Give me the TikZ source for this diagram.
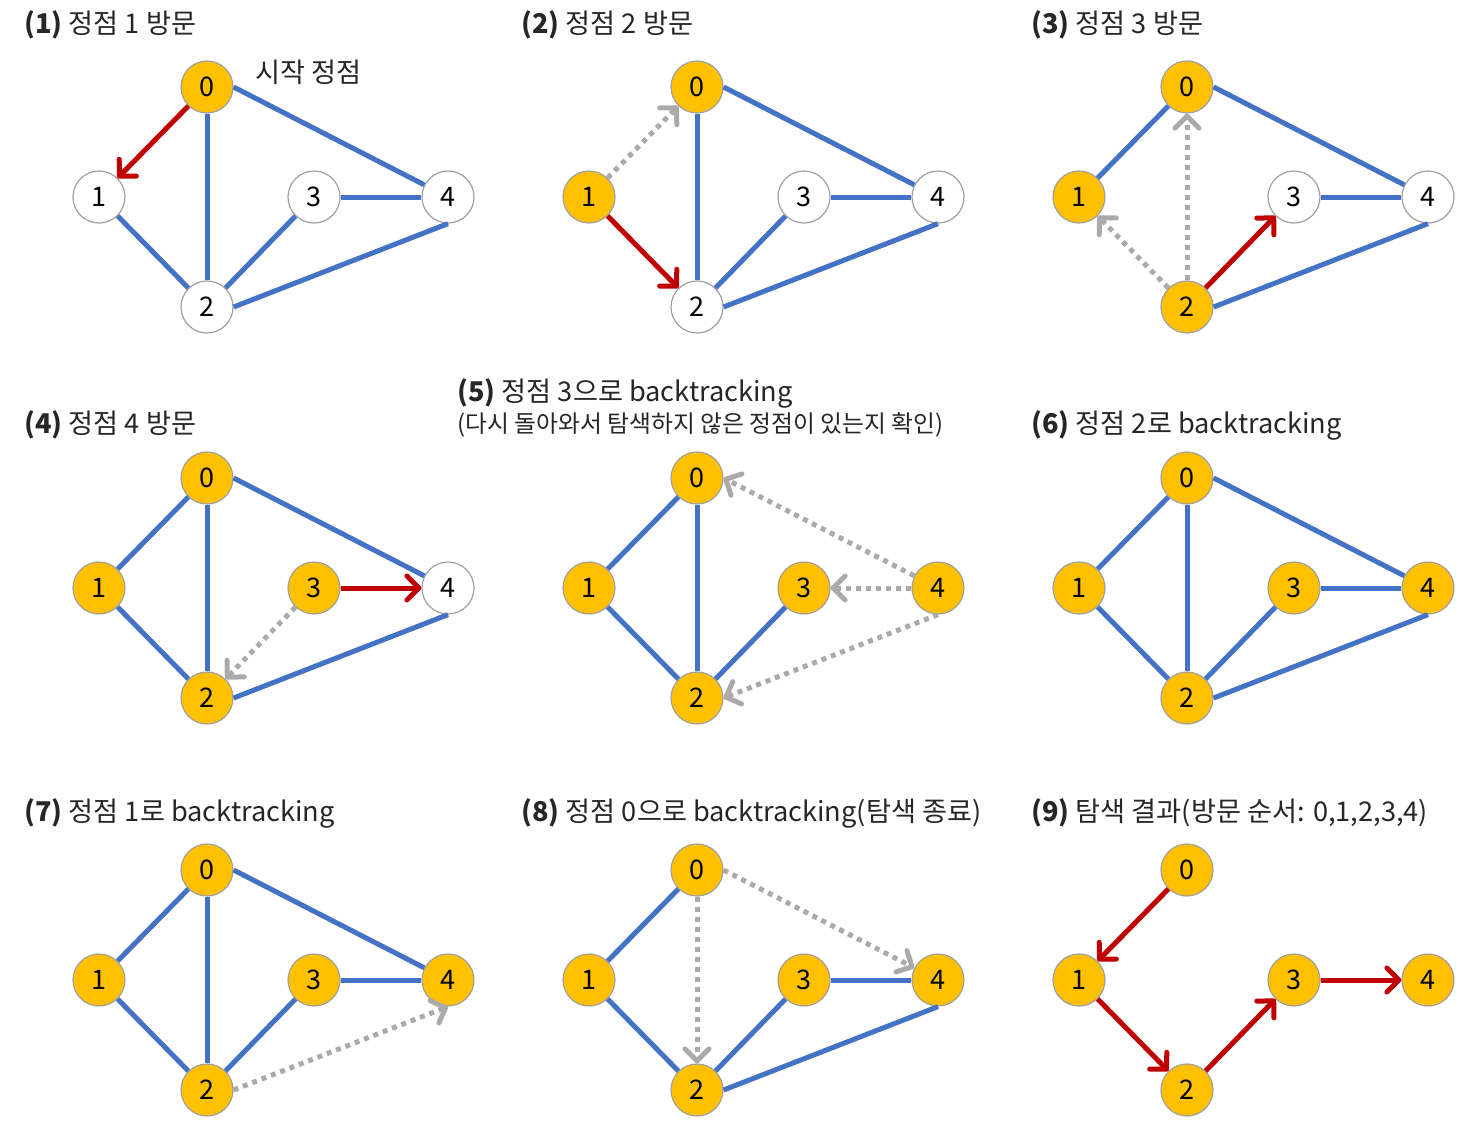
\documentclass[tikz,border=0pt]{standalone}
\usepackage{fontspec}
\setmainfont{Noto Sans CJK KR}
\usepackage{tikz}
\usetikzlibrary{arrows.meta}

\definecolor{linkblue}{HTML}{4472C4}
\definecolor{treered}{HTML}{C00000}
\definecolor{visitgold}{HTML}{FFC000}
\definecolor{rimgray}{HTML}{A0A0A0}
\definecolor{dotgray}{HTML}{AAAAAA}
\definecolor{inkgray}{HTML}{262626}

\tikzset{
	vtx/.style={circle, draw=rimgray, line width=0.6pt, minimum size=26pt, inner sep=0pt, text=black, font=\fontsize{13.5}{15}\selectfont},
	visit/.style={vtx, fill=visitgold},
	blank/.style={vtx, fill=white},
	link/.style={draw=linkblue, line width=2.5pt},
	walk/.style={draw=treered, line width=2.5pt, -{Straight Barb[length=6pt, width=12pt, line cap=round, line join=round]}},
	retreat/.style={draw=dotgray, line width=2.5pt, dash pattern=on 2.5pt off 2.5pt, -{Straight Barb[length=6pt, width=12pt, line cap=round, line join=round]}},
	title/.style={anchor=west, inner sep=0pt, text=inkgray, font=\fontsize{13.6}{15}\selectfont},
	subtitle/.style={anchor=west, inner sep=0pt, text=inkgray, font=\fontsize{11.9}{13}\selectfont}
}

\begin{document}
\begin{tikzpicture}[x=0.5pt, y=-0.5pt]

		% Node positions inside one panel (pixels)
		\def\xL{99}
		\def\xM{207}
		\def\xR{314}
		\def\xE{448}

		\def\yT{87}
		\def\yC{197}
		\def\yB{307}

		\useasboundingbox (0,0) rectangle (1462,1125);

		% --- Titles ---
		\node[title] (t1) at (24,25) {\textbf{(1)} 정점 1 방문};
		\node[title] (t2) at (521,25) {\textbf{(2)} 정점 2 방문};
		\node[title] (t3) at (1031,25) {\textbf{(3)} 정점 3 방문};
		\node[title] (t4) at (24,425) {\textbf{(4)} 정점 4 방문};
		\node[title] (t5) at (457,393) {\textbf{(5)} 정점 3으로 backtracking};
		\node[subtitle] (t5b) at (457,425) {(다시 돌아와서 탐색하지 않은 정점이 있는지 확인)};
		\node[title] (t6) at (1031,425) {\textbf{(6)} 정점 2로 backtracking};
		\node[title] (t7) at (24,813) {\textbf{(7)} 정점 1로 backtracking};
		\node[title] (t8) at (521,813) {\textbf{(8)} 정점 0으로 backtracking(탐색 종료)};
		\node[title] (t9) at (1031,813) {\textbf{(9)} 탐색 결과(방문 순서: 0,1,2,3,4)};

		% --- Panel 1 ---
		\begin{scope}[shift={(0,0)}]
		\node[visit] (a0) at (\xM,\yT) {0}; \node[blank] (a1) at (\xL,\yC) {1};
		\node[blank] (a2) at (\xM,\yB) {2}; \node[blank] (a3) at (\xR,\yC) {3};
		\node[blank] (a4) at (\xE,\yC) {4};
		\node[title] (start) at (255,72) {시작 정점};
		\draw[link] (a0) -- (a2);  \draw[link] (a0.east) -- (a4);
		\draw[link] (a1) -- (a2);  \draw[link] (a2) -- (a3);
		\draw[link] (a3) -- (a4);  \draw[link] (a2.east) -- (a4.south);
		\draw[walk] (a0) -- (a1);
		\end{scope}

		% --- Panel 2 ---
		\begin{scope}[shift={(490,0)}]
		\node[visit] (b0) at (\xM,\yT) {0}; \node[visit] (b1) at (\xL,\yC) {1};
		\node[blank] (b2) at (\xM,\yB) {2}; \node[blank] (b3) at (\xR,\yC) {3};
		\node[blank] (b4) at (\xE,\yC) {4};
		\draw[link] (b0) -- (b2);  \draw[link] (b0.east) -- (b4);
		\draw[link] (b2) -- (b3);  \draw[link] (b3) -- (b4);
		\draw[link] (b2.east) -- (b4.south);
		\draw[retreat] (b1) -- (b0);
		\draw[walk] (b1) -- (b2);
		\end{scope}

		% --- Panel 3 ---
		\begin{scope}[shift={(980,0)}]
		\node[visit] (c0) at (\xM,\yT) {0}; \node[visit] (c1) at (\xL,\yC) {1};
		\node[visit] (c2) at (\xM,\yB) {2}; \node[blank] (c3) at (\xR,\yC) {3};
		\node[blank] (c4) at (\xE,\yC) {4};
		\draw[link] (c0) -- (c1);  \draw[link] (c0.east) -- (c4);
		\draw[link] (c3) -- (c4);  \draw[link] (c2.east) -- (c4.south);
		\draw[retreat] (c2) -- (c0);  \draw[retreat] (c2) -- (c1);
		\draw[walk] (c2) -- (c3);
		\end{scope}

		% --- Panel 4 ---
		\begin{scope}[shift={(0,391)}]
		\node[visit] (d0) at (\xM,\yT) {0}; \node[visit] (d1) at (\xL,\yC) {1};
		\node[visit] (d2) at (\xM,\yB) {2}; \node[visit] (d3) at (\xR,\yC) {3};
		\node[blank] (d4) at (\xE,\yC) {4};
		\draw[link] (d0) -- (d1);  \draw[link] (d0) -- (d2);
		\draw[link] (d0.east) -- (d4);  \draw[link] (d1) -- (d2);
		\draw[link] (d2.east) -- (d4.south);
		\draw[retreat] (d3) -- (d2);
		\draw[walk] (d3) -- (d4);
		\end{scope}

		% --- Panel 5 ---
		\begin{scope}[shift={(490,391)}]
		\node[visit] (e0) at (\xM,\yT) {0}; \node[visit] (e1) at (\xL,\yC) {1};
		\node[visit] (e2) at (\xM,\yB) {2}; \node[visit] (e3) at (\xR,\yC) {3};
		\node[visit] (e4) at (\xE,\yC) {4};
		\draw[link] (e0) -- (e1);  \draw[link] (e0) -- (e2);
		\draw[link] (e1) -- (e2);  \draw[link] (e2) -- (e3);
		\draw[retreat] (e4) -- (e0.east);  \draw[retreat] (e4) -- (e3);
		\draw[retreat] (e4.south) -- (e2.east);
		\end{scope}

		% --- Panel 6 ---
		\begin{scope}[shift={(980,391)}]
		\node[visit] (f0) at (\xM,\yT) {0}; \node[visit] (f1) at (\xL,\yC) {1};
		\node[visit] (f2) at (\xM,\yB) {2}; \node[visit] (f3) at (\xR,\yC) {3};
		\node[visit] (f4) at (\xE,\yC) {4};
		\draw[link] (f0) -- (f1);  \draw[link] (f0) -- (f2);
		\draw[link] (f0.east) -- (f4);  \draw[link] (f1) -- (f2);
		\draw[link] (f2) -- (f3);  \draw[link] (f3) -- (f4);
		\draw[link] (f2.east) -- (f4.south);
		\end{scope}

		% --- Panel 7 ---
		\begin{scope}[shift={(0,783)}]
		\node[visit] (g0) at (\xM,\yT) {0}; \node[visit] (g1) at (\xL,\yC) {1};
		\node[visit] (g2) at (\xM,\yB) {2}; \node[visit] (g3) at (\xR,\yC) {3};
		\node[visit] (g4) at (\xE,\yC) {4};
		\draw[link] (g0) -- (g1);  \draw[link] (g0) -- (g2);
		\draw[link] (g0.east) -- (g4);  \draw[link] (g1) -- (g2);
		\draw[link] (g2) -- (g3);  \draw[link] (g3) -- (g4);
		\draw[retreat] (g2.east) -- (g4.south);
		\end{scope}

		% --- Panel 8 ---
		\begin{scope}[shift={(490,783)}]
		\node[visit] (h0) at (\xM,\yT) {0}; \node[visit] (h1) at (\xL,\yC) {1};
		\node[visit] (h2) at (\xM,\yB) {2}; \node[visit] (h3) at (\xR,\yC) {3};
		\node[visit] (h4) at (\xE,\yC) {4};
		\draw[link] (h0) -- (h1);  \draw[link] (h1) -- (h2);
		\draw[link] (h2) -- (h3);  \draw[link] (h3) -- (h4);
		\draw[link] (h2.east) -- (h4.south);
		\draw[retreat] (h0) -- (h2);  \draw[retreat] (h0.east) -- (h4);
		\end{scope}

		% --- Panel 9 ---
		\begin{scope}[shift={(980,783)}]
		\node[visit] (i0) at (\xM,\yT) {0}; \node[visit] (i1) at (\xL,\yC) {1};
		\node[visit] (i2) at (\xM,\yB) {2}; \node[visit] (i3) at (\xR,\yC) {3};
		\node[visit] (i4) at (\xE,\yC) {4};
		\draw[walk] (i0) -- (i1);  \draw[walk] (i1) -- (i2);
		\draw[walk] (i2) -- (i3);  \draw[walk] (i3) -- (i4);
		\end{scope}

	\end{tikzpicture}
\end{document}
